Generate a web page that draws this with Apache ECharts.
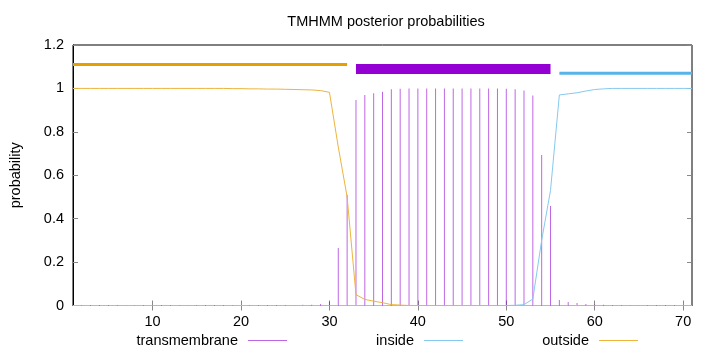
<!DOCTYPE html>
<html>
<head>
<meta charset="utf-8">
<script src="https://cdn.jsdelivr.net/npm/echarts@6/dist/echarts.min.js"></script>
<style>html,body{margin:0;padding:0;background:#fff}#c{width:720px;height:352px}</style>
</head>
<body>
<div id="c"></div>
<script>
// residue positions 1..71
var positions = [1,2,3,4,5,6,7,8,9,10,11,12,13,14,15,16,17,18,19,20,21,22,23,24,25,26,27,28,29,30,31,32,33,34,35,36,37,38,39,40,41,42,43,44,45,46,47,48,49,50,51,52,53,54,55,56,57,58,59,60,61,62,63,64,65,66,67,68,69,70,71];
var transmembrane = [0,0,0,0,0,0,0,0,0,0,0,0,0,0,0,0,0,0,0,0.001,0.001,0.001,0.001,0.001,0.001,0.002,0.003,0.004,0.007,0.018,0.265,0.51,0.947,0.970,0.978,0.985,0.996,0.998,1,1,1,1,1,1,1,1,1,1,1,0.998,0.996,0.99,0.967,0.693,0.458,0.025,0.016,0.011,0.007,0.005,0.003,0.002,0.001,0.001,0.001,0,0,0,0,0,0];
var inside = [0,0,0,0,0,0,0,0,0,0,0,0,0,0,0,0,0,0,0,0,0,0,0,0,0,0,0,0,0,0,0,0,0,0,0,0,0,0,0,0,0,0,0,0,0,0,0,0,0,0,0.001,0.004,0.03,0.30,0.53,0.97,0.975,0.98,0.988,0.995,0.998,1,1,1,1,1,1,1,1,1,1];
var outside = [1,1,1,1,1,1,1,1,1,1,1,1,1,1,1,1,1,1,0.999,0.999,0.998,0.998,0.997,0.997,0.996,0.995,0.994,0.993,0.99,0.982,0.73,0.50,0.05,0.028,0.02,0.013,0.004,0.002,0,0,0,0,0,0,0,0,0,0,0,0,0,0,0,0,0,0,0,0,0,0,0,0,0,0,0,0,0,0,0,0,0];
// predicted topology segments (top bars)
var segNames = ['outside','TMhelix','inside'];
var segStart = [1,33,56];
var segEnd = [32,55,71];
var segLevel = [1.11,1.09,1.07];
var xTicks = [10,20,30,40,50,60,70];

var segColors = ['#E69F00','#9400D3','#56B4E9'];
var segWidths = [3,10,3];
var FONT = 'Liberation Sans, Arial, sans-serif';
var FS = 14.5;

function pairs(vals){ return positions.map(function(p,i){ return [p, vals[i]]; }); }

var series = [
  {name:'transmembrane', type:'bar', barWidth:1, data:pairs(transmembrane),
   itemStyle:{color:'rgba(148,0,211,0.6)'}, color:'rgba(148,0,211,0.6)', silent:true},
  {name:'inside', type:'line', data:pairs(inside), showSymbol:false, symbol:'none',
   lineStyle:{color:'#86c9ee', width:1}, itemStyle:{color:'#86c9ee'}, color:'#86c9ee'},
  {name:'outside', type:'line', data:pairs(outside), showSymbol:false, symbol:'none',
   lineStyle:{color:'#edb43c', width:1}, itemStyle:{color:'#edb43c'}, color:'#edb43c'}
];
for (var i=0;i<segStart.length;i++){
  series.push({name:'seg_'+segNames[i], type:'line', symbol:'none',
    data:[[segStart[i],segLevel[i]],[segEnd[i],segLevel[i]]],
    lineStyle:{color:segColors[i], width:segWidths[i], cap:'butt'}, z:5, silent:true});
}

function legendFor(name, rightEdge){
  return {data:[name], icon:'rect', itemWidth:39, itemHeight:1, align:'right',
    right:720-rightEdge, top:333, padding:0,
    textStyle:{fontFamily:FONT, fontSize:FS, color:'#000', padding:[0,5,0,0]},
    selectedMode:false};
}

var chart = echarts.init(document.getElementById('c'), null, {renderer:'canvas'});
chart.setOption({
  animation:false,
  title:{text:'TMHMM posterior probabilities', left:381, top:9, textAlign:'center',
    textStyle:{fontFamily:FONT, fontSize:FS, fontWeight:'normal', color:'#000'}},
  legend:[legendFor('transmembrane',287), legendFor('inside',463), legendFor('outside',638)],
  grid:{left:73, right:28, top:45, bottom:46.5, show:true, borderColor:'#000', borderWidth:1, backgroundColor:'transparent'},
  xAxis:[
    {type:'value', min:1, max:71, position:'bottom',
     axisLine:{show:true, onZero:false, lineStyle:{color:'#000'}},
     axisTick:{show:true, inside:true, length:5, customValues:xTicks, lineStyle:{color:'#888'}},
     axisLabel:{customValues:xTicks, margin:9, fontFamily:FONT, fontSize:FS, color:'#000'},
     splitLine:{show:false}},
    {type:'value', min:1, max:71, position:'top',
     axisLine:{show:false},
     axisTick:{show:true, inside:true, length:5, customValues:xTicks, lineStyle:{color:'#888'}},
     axisLabel:{show:false}, splitLine:{show:false}}
  ],
  yAxis:[
    {type:'value', min:0, max:1.2, interval:0.2, position:'left',
     name:'probability', nameLocation:'middle', nameGap:50, nameRotate:90,
     nameTextStyle:{fontFamily:FONT, fontSize:FS, color:'#000'},
     axisLine:{show:true, lineStyle:{color:'#000'}},
     axisTick:{show:true, inside:true, length:5, lineStyle:{color:'#888'}},
     axisLabel:{margin:9, fontFamily:FONT, fontSize:FS, color:'#000',
       formatter:function(v){ return String(+v.toFixed(1)); }},
     splitLine:{show:false}},
    {type:'value', min:0, max:1.2, interval:0.2, position:'right',
     axisLine:{show:false},
     axisTick:{show:true, inside:true, length:5, lineStyle:{color:'#888'}},
     axisLabel:{show:false}, splitLine:{show:false}}
  ],
  series:series
});
</script>
</body>
</html>
